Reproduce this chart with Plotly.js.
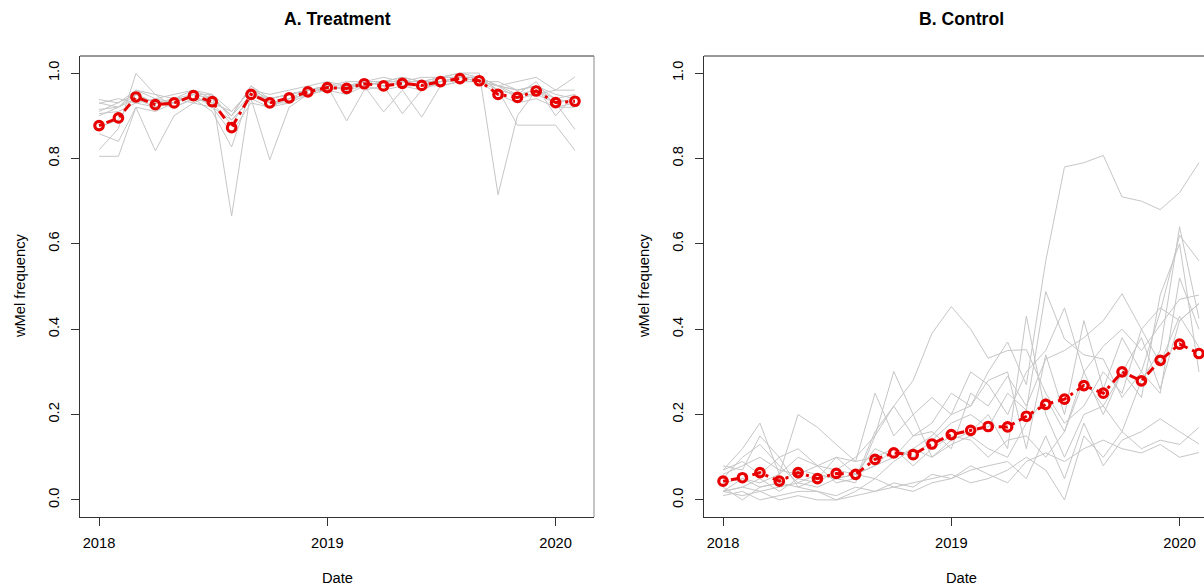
<!DOCTYPE html>
<html>
<head>
<meta charset="utf-8">
<script src="https://cdn.plot.ly/plotly-3.0.1.min.js"></script>
<style>
  html, body { margin: 0; padding: 0; overflow: hidden; background: #fff; }
  #chart { width: 1240px; height: 588px; }
</style>
</head>
<body>
<div id="chart"></div>
<script>
// Monthly sampling dates
const months = [
  '2018-01-01','2018-02-01','2018-03-01','2018-04-01','2018-05-01','2018-06-01',
  '2018-07-01','2018-08-01','2018-09-01','2018-10-01','2018-11-01','2018-12-01',
  '2019-01-01','2019-02-01','2019-03-01','2019-04-01','2019-05-01','2019-06-01',
  '2019-07-01','2019-08-01','2019-09-01','2019-10-01','2019-11-01','2019-12-01',
  '2020-01-01','2020-02-01'
];

// Treatment clusters: wMel frequency per cluster
const treatmentSites = [
  [0.93,0.92,0.96,0.94,0.95,0.96,0.95,0.665,0.96,0.95,0.96,0.97,0.98,0.97,0.98,0.98,0.99,0.98,0.99,1.00,0.99,0.97,0.96,0.97,0.95,0.94],
  [0.91,0.93,0.95,0.93,0.94,0.96,0.94,0.90,0.97,0.94,0.95,0.96,0.97,0.98,0.98,0.99,0.98,0.99,0.99,1.00,1.00,0.715,0.90,0.96,0.94,0.95],
  [0.805,0.805,0.92,0.91,0.93,0.95,0.92,0.89,0.94,0.797,0.92,0.95,0.96,0.95,0.97,0.96,0.97,0.96,0.98,0.99,0.98,0.95,0.93,0.94,0.92,0.93],
  [0.82,0.87,0.999,0.95,0.92,0.94,0.93,0.88,0.95,0.93,0.94,0.96,0.97,0.96,0.98,0.97,0.98,0.97,0.99,0.99,0.99,0.96,0.95,0.98,0.92,0.92],
  [0.858,0.84,0.92,0.818,0.90,0.93,0.92,0.86,0.93,0.92,0.93,0.95,0.96,0.97,0.97,0.98,0.97,0.97,0.98,0.99,0.99,0.97,0.95,0.96,0.93,0.94],
  [0.874,0.89,0.95,0.93,0.92,0.94,0.91,0.827,0.96,0.92,0.94,0.95,0.97,0.96,0.97,0.98,0.99,0.98,0.98,0.99,0.98,0.96,0.878,0.878,0.878,0.819],
  [0.938,0.93,0.96,0.95,0.94,0.95,0.95,0.91,0.96,0.94,0.95,0.96,0.97,0.888,0.96,0.97,0.98,0.97,0.97,0.98,0.98,0.97,0.94,0.95,0.93,0.868],
  [0.929,0.94,0.93,0.94,0.93,0.95,0.94,0.90,0.97,0.93,0.93,0.96,0.96,0.97,0.97,0.909,0.96,0.897,0.97,0.98,0.98,0.97,0.96,0.97,0.94,0.93],
  [0.915,0.92,0.94,0.92,0.94,0.93,0.95,0.89,0.94,0.92,0.95,0.96,0.97,0.96,0.98,0.97,0.905,0.96,0.98,0.98,0.99,0.96,0.95,0.95,0.96,0.96],
  [0.905,0.91,0.93,0.92,0.94,0.94,0.93,0.91,0.96,0.93,0.94,0.95,0.97,0.97,0.98,0.98,0.98,0.98,0.99,0.99,0.99,0.97,0.98,0.99,0.96,0.991],
  [0.90,0.92,0.95,0.93,0.93,0.95,0.94,0.90,0.95,0.94,0.95,0.96,0.96,0.97,0.97,0.98,0.98,0.98,0.98,0.99,0.98,0.98,0.96,0.97,0.90,0.95]
];
const treatmentMean = [
  0.877,0.895,0.944,0.926,0.930,0.947,0.933,0.872,0.950,0.930,0.942,0.956,0.966,
  0.964,0.975,0.970,0.976,0.971,0.980,0.987,0.982,0.950,0.943,0.958,0.931,0.934
];

// Control clusters: wMel frequency per cluster
const controlSites = [
  [0.02,0.03,0.02,0.03,0.04,0.03,0.05,0.06,0.08,0.10,0.12,0.15,0.20,0.22,0.30,0.37,0.27,0.56,0.78,0.79,0.807,0.71,0.70,0.68,0.72,0.79],
  [0.06,0.08,0.10,0.07,0.06,0.08,0.07,0.10,0.15,0.22,0.28,0.39,0.453,0.40,0.332,0.35,0.352,0.25,0.18,0.22,0.30,0.25,0.40,0.45,0.42,0.46],
  [0.05,0.10,0.13,0.08,0.04,0.06,0.05,0.04,0.15,0.301,0.20,0.10,0.13,0.15,0.12,0.10,0.18,0.24,0.16,0.30,0.36,0.40,0.35,0.41,0.47,0.48],
  [0.04,0.05,0.03,0.04,0.07,0.06,0.05,0.06,0.08,0.12,0.10,0.14,0.18,0.20,0.17,0.25,0.21,0.488,0.377,0.34,0.33,0.24,0.30,0.44,0.62,0.56],
  [0.02,0.03,0.05,0.02,0.05,0.04,0.07,0.06,0.05,0.09,0.12,0.10,0.14,0.16,0.20,0.12,0.431,0.20,0.10,0.20,0.22,0.16,0.28,0.35,0.64,0.425],
  [0.07,0.09,0.06,0.10,0.12,0.08,0.10,0.06,0.12,0.10,0.15,0.16,0.12,0.25,0.22,0.29,0.22,0.33,0.35,0.38,0.42,0.483,0.40,0.32,0.43,0.358],
  [0.01,0.02,0.00,0.01,0.02,0.02,0.01,0.03,0.02,0.03,0.04,0.05,0.06,0.04,0.05,0.07,0.10,0.07,0.00,0.15,0.10,0.16,0.12,0.14,0.13,0.17],
  [0.03,0.00,0.03,0.04,0.03,0.02,0.00,0.02,0.05,0.03,0.02,0.04,0.05,0.07,0.08,0.09,0.05,0.15,0.05,0.18,0.08,0.14,0.16,0.19,0.16,0.131],
  [0.02,0.01,0.02,0.00,0.01,0.00,0.00,0.01,0.02,0.04,0.03,0.06,0.05,0.08,0.06,0.04,0.09,0.11,0.09,0.12,0.14,0.12,0.11,0.13,0.10,0.111],
  [0.07,0.12,0.18,0.06,0.10,0.08,0.04,0.05,0.16,0.22,0.15,0.18,0.25,0.22,0.28,0.30,0.12,0.34,0.20,0.42,0.26,0.38,0.30,0.25,0.52,0.40],
  [0.08,0.07,0.15,0.10,0.03,0.05,0.10,0.09,0.25,0.15,0.20,0.24,0.20,0.30,0.27,0.20,0.30,0.35,0.45,0.30,0.20,0.30,0.24,0.48,0.60,0.30],
  [0.02,0.05,0.04,0.06,0.20,0.17,0.13,0.09,0.10,0.12,0.08,0.12,0.15,0.14,0.10,0.14,0.15,0.10,0.16,0.28,0.22,0.30,0.38,0.26,0.42,0.46]
];
const controlMean = [
  0.044,0.052,0.064,0.044,0.064,0.050,0.062,0.060,0.095,0.110,0.106,0.131,0.153,
  0.163,0.172,0.171,0.196,0.224,0.236,0.268,0.250,0.300,0.279,0.327,0.365,0.343
];

const yearTicks = ['2018-01-01','2019-01-01','2020-01-01'];
const yearLabels = ['2018','2019','2020'];
const freqTicks = [0, 0.2, 0.4, 0.6, 0.8, 1.0];
const freqLabels = ['0.0','0.2','0.4','0.6','0.8','1.0'];
const panelTitles = ['A. Treatment', 'B. Control'];
const xTitle = 'Date';
const yTitle = 'wMel frequency';

// ---- drawing ----
const FONT = 'Liberation Sans, Arial, Helvetica, sans-serif';
const W = 1240, H = 588;
const M = { l: 80, r: 22, t: 56, b: 71 };
const plotW = W - M.l - M.r, plotH = H - M.t - M.b;
const panelW = 514, panelGap = 624;   // panel width and panel-to-panel offset (px)

// pixel -> paper helpers for free-standing labels
const px2paperX = px => (px - M.l) / plotW;
const px2paperY = py => (H - M.b - py) / plotH;

const GREY = '#c6c6c6';
const RED = '#e80000';

function panelTraces(sites, mean, xa, ya) {
  const out = sites.map(v => ({
    x: months, y: v, xaxis: xa, yaxis: ya, type: 'scatter', mode: 'lines',
    line: { color: GREY, width: 1 }, hoverinfo: 'skip', showlegend: false
  }));
  out.push({
    x: months, y: mean, xaxis: xa, yaxis: ya, type: 'scatter', mode: 'lines+markers',
    line: { color: RED, width: 3, dash: '3px,5px,9px,5px' },
    marker: { symbol: 'circle-open', size: 8.5, color: RED, line: { color: RED, width: 3.2 } },
    showlegend: false
  });
  return out;
}

const data = [
  ...panelTraces(treatmentSites, treatmentMean, 'x', 'y'),
  ...panelTraces(controlSites, controlMean, 'x2', 'y2')
];

function xAxis(domain, anchor) {
  return {
    domain, anchor, type: 'date',
    range: ['2017-12-01 13:26', '2020-03-02 10:34'],
    tickmode: 'array', tickvals: yearTicks, ticktext: yearLabels,
    ticks: 'outside', ticklen: 8, tickwidth: 1, tickcolor: '#333',
    ticklabelstandoff: 4,
    tickfont: { family: FONT, size: 14.7, color: '#000' },
    showline: true, linecolor: '#333', linewidth: 1, mirror: false,
    showgrid: false, zeroline: false, fixedrange: true, automargin: false
  };
}
function yAxis(anchor) {
  return {
    domain: [0, 1], anchor,
    range: [-0.04, 1.04],
    tickmode: 'array', tickvals: freqTicks, ticktext: freqLabels, tickangle: -90,
    ticks: 'outside', ticklen: 8, tickwidth: 1, tickcolor: '#333',
    ticklabelstandoff: 6,
    tickfont: { family: FONT, size: 14.7, color: '#000' },
    showline: true, linecolor: '#333', linewidth: 1, mirror: false,
    showgrid: false, zeroline: false, fixedrange: true, automargin: false
  };
}

const annotations = [];
const shapes = [];
[0, 1].forEach(i => {
  const cx = M.l + i * panelGap + panelW / 2;
  annotations.push({
    text: '<b>' + panelTitles[i] + '</b>', xref: 'paper', yref: 'paper',
    x: px2paperX(cx), y: px2paperY(19), xanchor: 'center', yanchor: 'middle',
    showarrow: false, font: { family: FONT, size: 17.6, color: '#000' }
  });
  annotations.push({
    text: xTitle, xref: 'paper', yref: 'paper',
    x: px2paperX(cx), y: px2paperY(578), xanchor: 'center', yanchor: 'middle',
    showarrow: false, font: { family: FONT, size: 14.7, color: '#000' }
  });
  annotations.push({
    text: yTitle, xref: 'paper', yref: 'paper', textangle: -90,
    x: px2paperX(20 + i * panelGap), y: px2paperY(286), xanchor: 'center', yanchor: 'middle',
    showarrow: false, font: { family: FONT, size: 14.7, color: '#000' }
  });
  const xr = (i === 0 ? 'x' : 'x2') + ' domain', yr = (i === 0 ? 'y' : 'y2') + ' domain';
  // closing edges of the plot box
  shapes.push({ type: 'line', xref: xr, yref: yr, x0: 0, x1: 1, y0: 1, y1: 1, line: { color: '#333', width: 1 } });
  shapes.push({ type: 'line', xref: xr, yref: yr, x0: 1, x1: 1, y0: 0, y1: 1, line: { color: '#8a8a8a', width: 1 } });
});

const layout = {
  width: W, height: H,
  margin: { l: M.l, r: M.r, t: M.t, b: M.b, pad: 0 },
  paper_bgcolor: '#fff', plot_bgcolor: '#fff',
  font: { family: FONT, color: '#000' },
  xaxis: xAxis([0, panelW / plotW], 'y'),
  yaxis: yAxis('x'),
  xaxis2: xAxis([panelGap / plotW, (panelGap + panelW) / plotW], 'y2'),
  yaxis2: yAxis('x2'),
  annotations, shapes,
  showlegend: false
};

Plotly.newPlot('chart', data, layout, { displayModeBar: false, staticPlot: true });
</script>
</body>
</html>
